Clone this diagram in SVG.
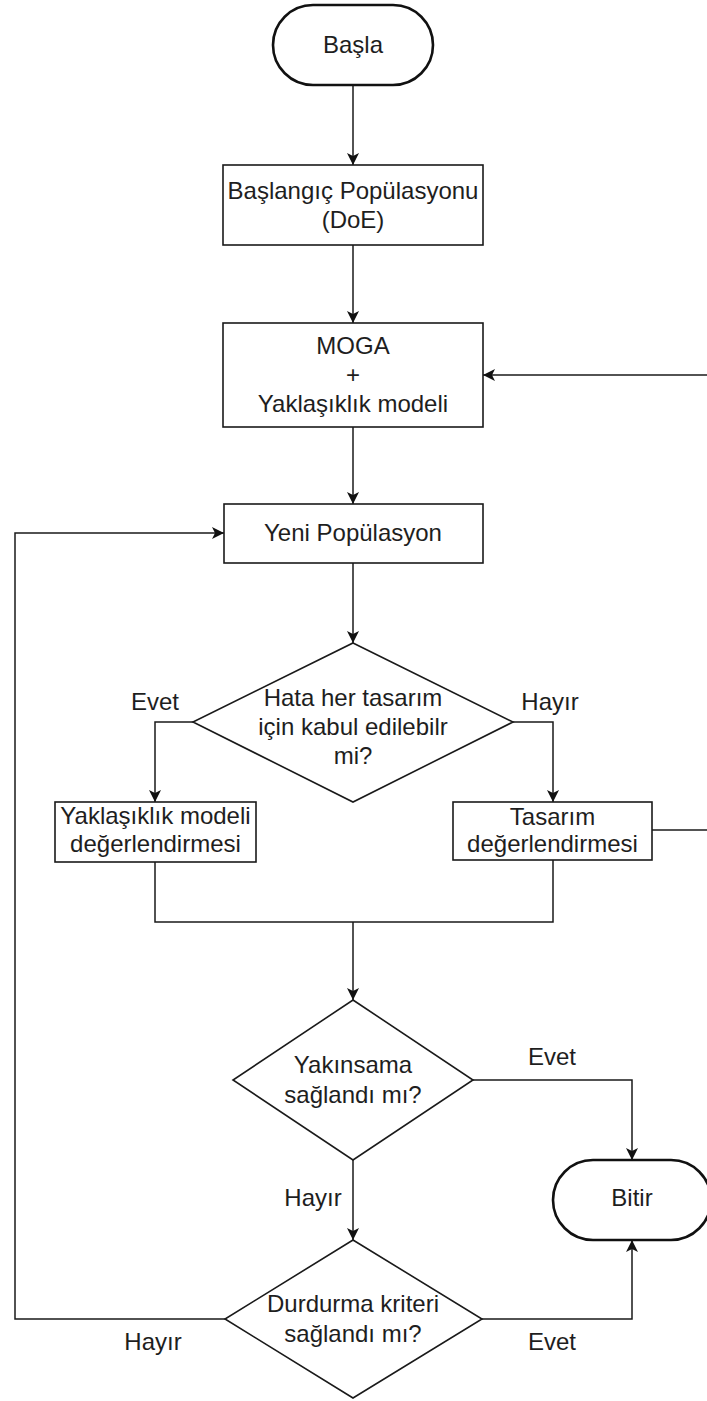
<svg xmlns="http://www.w3.org/2000/svg" width="707" height="1401" viewBox="0 0 707 1401">
<style>
  .shape { fill: #ffffff; stroke: #1a1a1a; stroke-width: 1.6; }
  .term { fill: #ffffff; stroke: #111111; stroke-width: 2.6; }
  .edge { fill: none; stroke: #1a1a1a; stroke-width: 1.5; }
  text { font-family: "Liberation Sans", Arial, sans-serif; font-size: 24px; fill: #1e1e1e; text-anchor: middle; }
</style>
<defs>
  <marker id="arrow" markerUnits="userSpaceOnUse" markerWidth="14" markerHeight="12" refX="12" refY="6" orient="auto">
    <path d="M0,0 L12,6 L0,12 L3,6 z" fill="#111111"/>
  </marker>
</defs>
<rect width="707" height="1401" fill="#ffffff"/>

<g id="connectors">
  <path class="edge" d="M353,86 L353,165" marker-end="url(#arrow)"/>
  <path class="edge" d="M353,245 L353,323" marker-end="url(#arrow)"/>
  <path class="edge" d="M353,427 L353,504" marker-end="url(#arrow)"/>
  <path class="edge" d="M707,375 L483,375" marker-end="url(#arrow)"/>
  <path class="edge" d="M353,563 L353,643" marker-end="url(#arrow)"/>
  <path class="edge" d="M193,722 L155,722 L155,802" marker-end="url(#arrow)"/>
  <path class="edge" d="M513,722 L553,722 L553,802" marker-end="url(#arrow)"/>
  <path class="edge" d="M155,862 L155,922 L553,922 L553,860"/>
  <path class="edge" d="M353,922 L353,1000" marker-end="url(#arrow)"/>
  <path class="edge" d="M652,830 L707,830"/>
  <path class="edge" d="M473,1080 L632,1080 L632,1160" marker-end="url(#arrow)"/>
  <path class="edge" d="M353,1160 L353,1240" marker-end="url(#arrow)"/>
  <path class="edge" d="M482,1319 L632,1319 L632,1240" marker-end="url(#arrow)"/>
  <path class="edge" d="M225,1319 L15,1319 L15,533 L224,533" marker-end="url(#arrow)"/>
  <text x="155" y="710">Evet</text>
  <text x="550" y="710">Hayır</text>
  <text x="552" y="1065">Evet</text>
  <text x="313" y="1206">Hayır</text>
  <text x="153" y="1350">Hayır</text>
  <text x="552" y="1350">Evet</text>
</g>

<g id="basla">
  <rect class="term" x="273" y="5" width="160" height="80" rx="40" ry="40"/>
  <text x="353" y="53">Başla</text>
</g>

<g id="baslangic">
  <rect class="shape" x="223" y="165" width="260" height="80"/>
  <text x="353" y="199">Başlangıç Popülasyonu</text>
  <text x="353" y="228">(DoE)</text>
</g>

<g id="moga">
  <rect class="shape" x="223" y="323" width="260" height="104"/>
  <text x="353" y="354">MOGA</text>
  <text x="353" y="383">+</text>
  <text x="353" y="412">Yaklaşıklık modeli</text>
</g>

<g id="yeni">
  <rect class="shape" x="224" y="504" width="259" height="59"/>
  <text x="353" y="541">Yeni Popülasyon</text>
</g>

<g id="hata">
  <polygon class="shape" points="353,643 513,722 353,802 193,722"/>
  <text x="353" y="706">Hata her tasarım</text>
  <text x="353" y="735">için kabul edilebilr</text>
  <text x="353" y="764">mi?</text>
</g>

<g id="yaklasiklik">
  <rect class="shape" x="55" y="802" width="201" height="60"/>
  <text x="155.5" y="824">Yaklaşıklık modeli</text>
  <text x="155.5" y="852">değerlendirmesi</text>
</g>

<g id="tasarim">
  <rect class="shape" x="453" y="802" width="199" height="58"/>
  <text x="552.5" y="825">Tasarım</text>
  <text x="552.5" y="852">değerlendirmesi</text>
</g>

<g id="yakinsama">
  <polygon class="shape" points="353,1000 473,1080 353,1160 233,1080"/>
  <text x="353" y="1073">Yakınsama</text>
  <text x="353" y="1103">sağlandı mı?</text>
</g>

<g id="bitir">
  <rect class="term" x="553" y="1160" width="158" height="80" rx="40" ry="40"/>
  <text x="632" y="1206">Bitir</text>
</g>

<g id="durdurma">
  <polygon class="shape" points="353,1240 482,1319 353,1398 225,1319"/>
  <text x="353" y="1312">Durdurma kriteri</text>
  <text x="353" y="1342">sağlandı mı?</text>
</g>
</svg>
